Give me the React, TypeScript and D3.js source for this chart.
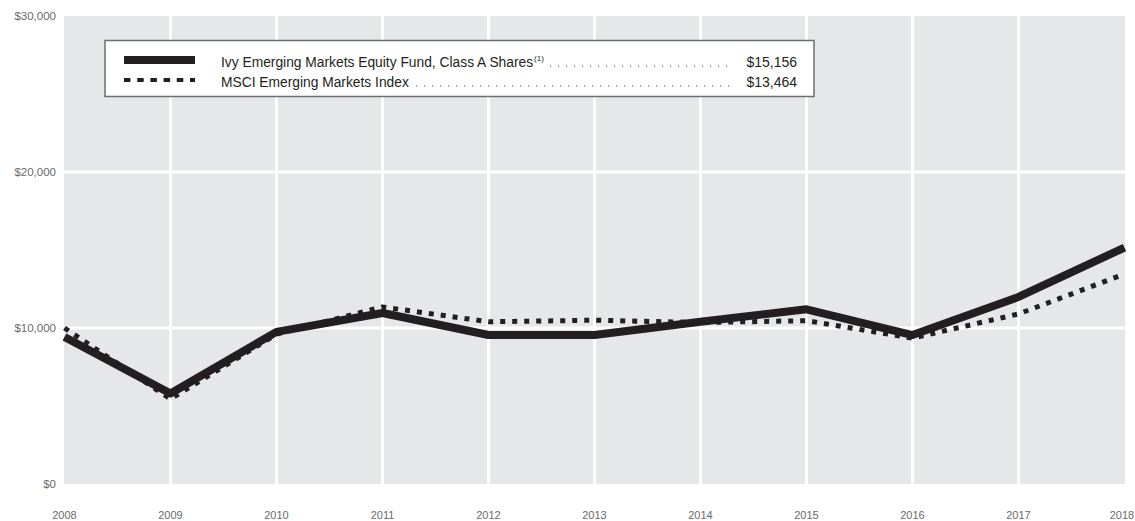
import React from 'react'
import * as d3 from 'd3'

const years = [2008, 2009, 2010, 2011, 2012, 2013, 2014, 2015, 2016, 2017, 2018]
const fundValues = [9425, 5800, 9750, 10960, 9550, 9550, 10400, 11200, 9550, 11990, 15156]
const indexValues = [10000, 5450, 9600, 11350, 10400, 10500, 10350, 10470, 9350, 10900, 13464]
const yTicks = [0, 10000, 20000, 30000]
const gridValues = [10000, 20000]

const fundLabel = 'Ivy Emerging Markets Equity Fund, Class A Shares'
const fundNote = '(1)'
const indexLabel = 'MSCI Emerging Markets Index'
const fundEnd = '$15,156'
const indexEnd = '$13,464'

const width = 1135
const height = 521
const plotLeft = 64
const plotRight = 1125
const plotTop = 16
const plotBottom = 484

const font = "'Liberation Sans', Arial, sans-serif"
const labelColor = '#6a6a6a'
const ink = '#231f20'

const App: React.FC = () => {
  const x = d3.scaleLinear().domain([2008, 2018]).range([plotLeft + 0.5, plotRight - 0.5])
  const y = d3.scaleLinear().domain([0, 30000]).range([plotBottom, plotTop])

  const line = d3.line<number>()
    .x((_, i) => x(years[i]))
    .y(d => y(d))

  const money = (v: number) => '$' + d3.format(',')(v)

  return (
    <svg width={width} height={height} style={{ position: 'absolute', left: 0, top: 0 }}>
      <rect x={plotLeft} y={plotTop} width={plotRight - plotLeft} height={plotBottom - plotTop} fill='#e6e7e8' />
      {years.slice(1, -1).map(yr => (
        <line key={yr} x1={x(yr)} x2={x(yr)} y1={plotTop} y2={plotBottom} stroke='#fff' strokeWidth={3} />
      ))}
      {gridValues.map(v => (
        <line key={v} x1={plotLeft} x2={plotRight} y1={y(v)} y2={y(v)} stroke='#fff' strokeWidth={3} />
      ))}

      {yTicks.map(v => (
        <text key={v} x={56} y={y(v)} dy='0.35em' textAnchor='end' fontSize={11.5}
          fontFamily={font} fill={labelColor}>{money(v)}</text>
      ))}
      {years.map(yr => (
        <text key={yr} x={Math.min(x(yr), 1122)} y={515} dy='0.35em' textAnchor='middle' fontSize={11}
          fontFamily={font} fill={labelColor}>{yr}</text>
      ))}

      <path d={line(fundValues) ?? ''} fill='none' stroke={ink} strokeWidth={8} strokeLinejoin='round' />
      <path d={line(indexValues) ?? ''} fill='none' stroke={ink} strokeWidth={5} strokeDasharray='5 7' />

      <g>
        <rect x={105} y={40.5} width={709} height={56} fill='#fff' stroke='#6d6e70' strokeWidth={1.5} />
        <line x1={124} x2={195} y1={60} y2={60} stroke={ink} strokeWidth={8} />
        <line x1={124} x2={195} y1={80} y2={80} stroke={ink} strokeWidth={4} strokeDasharray='6.5 6.7' />

        <text x={221} y={67} fontSize={13.8} fontFamily={font} fill={ink}>
          {fundLabel}
          <tspan dx={1} dy={-6} fontSize={8}>{fundNote}</tspan>
        </text>
        <line x1={550} x2={734} y1={66} y2={66} stroke='#555' strokeWidth={1.2} strokeDasharray='1.2 6.8' />
        <text x={797} y={67} textAnchor='end' fontSize={14} fontFamily={font} fill={ink}>{fundEnd}</text>

        <text x={221} y={87} fontSize={13.8} fontFamily={font} fill={ink}>{indexLabel}</text>
        <line x1={416} x2={734} y1={86} y2={86} stroke='#555' strokeWidth={1.2} strokeDasharray='1.2 6.8' />
        <text x={797} y={87} textAnchor='end' fontSize={14} fontFamily={font} fill={ink}>{indexEnd}</text>
      </g>
    </svg>
  )
}

export default App
